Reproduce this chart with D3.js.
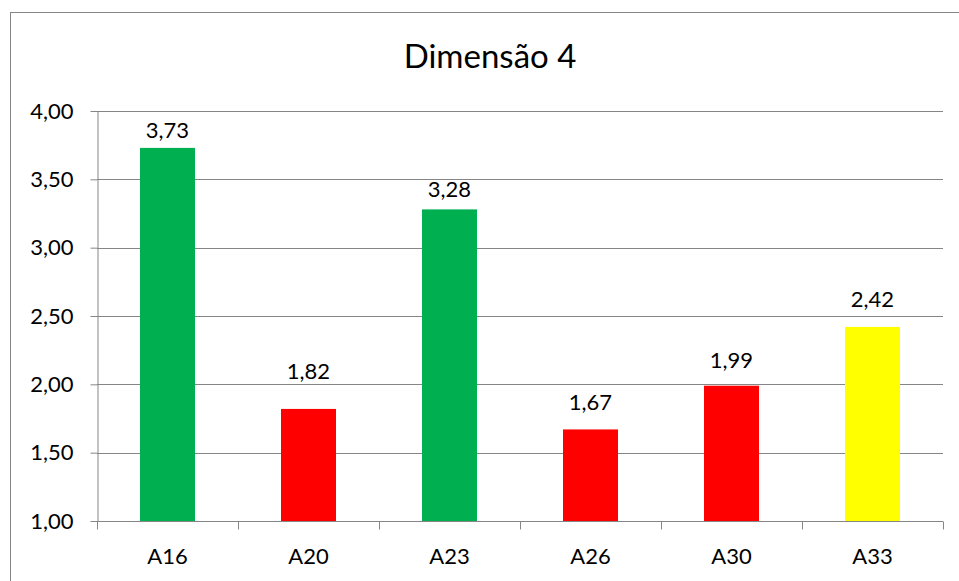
<!DOCTYPE html>
<html>
<head>
<meta charset="utf-8">
<script src="https://cdn.jsdelivr.net/npm/d3@7"></script>
<style>
  html, body { margin: 0; padding: 0; background: #fff; }
  svg { display: block; font-family: Lato, "Open Sans", sans-serif; }
</style>
</head>
<body>
<svg id="chart" width="959" height="581"></svg>
<script>
// Dimensão 4 — mean score per item
const categories = ["A16", "A20", "A23", "A26", "A30", "A33"];
const values = [3.73, 1.82, 3.28, 1.67, 1.99, 2.42];
const barColors = ["#00B050", "#FF0000", "#00B050", "#FF0000", "#FF0000", "#FFFF00"];
const yTicks = [1.0, 1.5, 2.0, 2.5, 3.0, 3.5, 4.0];
const title = "Dimensão 4";

// gap (px) between each value label's baseline and the top of its bar
const labelLift = [10, 30, 12, 19, 18, 20];

const svg = d3.select("#chart");
const W = 959, H = 581;
const margin = { top: 111, right: 16, bottom: 60, left: 97 };
const plotW = W - margin.left - margin.right;
const plotH = H - margin.top - margin.bottom;
const fmt = v => d3.format(".2f")(v).replace(".", ",");

// outer chart frame
svg.append("rect")
  .attr("x", 10.5).attr("y", 12.5)
  .attr("width", 960).attr("height", 600)
  .attr("fill", "#fff").attr("stroke", "#868686").attr("stroke-width", 1);

svg.append("text")
  .attr("x", 490).attr("y", 68)
  .attr("text-anchor", "middle")
  .attr("font-size", 33)
  .attr("fill", "#000")
  .text(title);

const g = svg.append("g").attr("transform", `translate(${margin.left},${margin.top})`);

const x = d3.scaleBand().domain(categories).range([0, plotW]).padding(0);
const y = d3.scaleLinear().domain([1, 4]).range([plotH, 0]);
const barW = x.bandwidth() * 0.39;

// horizontal gridlines
g.append("g").selectAll("line").data(yTicks.slice(1)).join("line")
  .attr("x1", 0).attr("x2", plotW)
  .attr("y1", d => Math.round(y(d)) + 0.5).attr("y2", d => Math.round(y(d)) + 0.5)
  .attr("stroke", "#868686").attr("stroke-width", 1);

// y axis
const yAxis = g.append("g")
  .attr("transform", "translate(0.5,0)")
  .call(d3.axisLeft(y).tickValues(yTicks).tickFormat(fmt).tickSize(7).tickPadding(17).tickSizeOuter(0));
yAxis.select(".domain").attr("stroke", "#868686");
yAxis.selectAll(".tick line").attr("stroke", "#868686");
yAxis.selectAll("text").attr("font-size", 22).attr("fill", "#000").attr("font-family", "Lato, sans-serif");

// bars
g.append("g").selectAll("rect").data(values).join("rect")
  .attr("x", (d, i) => x(categories[i]) + (x.bandwidth() - barW) / 2)
  .attr("y", d => y(d))
  .attr("width", barW)
  .attr("height", d => y(1) - y(d))
  .attr("fill", (d, i) => barColors[i]);

// value labels
g.append("g").selectAll("text").data(values).join("text")
  .attr("x", (d, i) => x(categories[i]) + x.bandwidth() / 2)
  .attr("y", (d, i) => y(d) - labelLift[i])
  .attr("text-anchor", "middle")
  .attr("font-size", 22)
  .attr("fill", "#000")
  .text(d => fmt(d));

// x axis with ticks at category boundaries
const xAxisG = g.append("g").attr("transform", `translate(0,${Math.round(plotH) + 0.5})`);
xAxisG.append("line").attr("x1", 0).attr("x2", plotW).attr("stroke", "#868686");
const bounds = d3.range(categories.length + 1).map(i => i === categories.length ? plotW : x(categories[i]));
xAxisG.selectAll(".tk").data(bounds).join("line").attr("class", "tk")
  .attr("x1", d => Math.round(d) + 0.5).attr("x2", d => Math.round(d) + 0.5)
  .attr("y1", 0).attr("y2", 8).attr("stroke", "#868686");
xAxisG.selectAll(".lbl").data(categories).join("text").attr("class", "lbl")
  .attr("x", d => x(d) + x.bandwidth() / 2)
  .attr("y", 42)
  .attr("text-anchor", "middle")
  .attr("font-size", 22)
  .attr("fill", "#000")
  .text(d => d);
</script>
</body>
</html>
